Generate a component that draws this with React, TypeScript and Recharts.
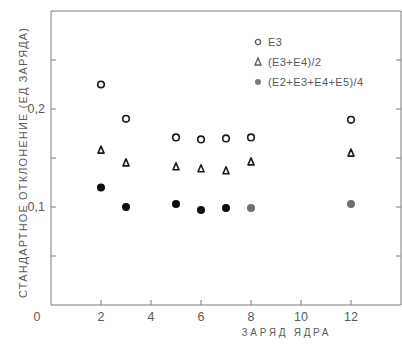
import React from 'react';
import { ScatterChart, Scatter, XAxis, YAxis } from 'recharts';

const xE3 = [2, 3, 5, 6, 7, 8, 12];
const yE3 = [0.225, 0.19, 0.171, 0.169, 0.17, 0.171, 0.189];
const yE34 = [0.158, 0.145, 0.141, 0.139, 0.137, 0.146, 0.155];
const yE2345 = [0.12, 0.1, 0.103, 0.097, 0.099, 0.099, 0.103];
const grayPoints = [8, 12];

const xTicks = [0, 2, 4, 6, 8, 10, 12];
const xTickMarks = [2, 4, 6, 8, 10, 12];
const yTicks = [0.05, 0.1, 0.15, 0.2, 0.25];
const yTickLabels: Record<string, string> = { '0.1': '0,1', '0.2': '0,2' };

const seriesNames = ['E3', '(E3+E4)/2', '(E2+E3+E4+E5)/4'];
const yTitle = 'СТАНДАРТНОЕ ОТКЛОНЕНИЕ (ЕД ЗАРЯДА)';
const xTitle = 'ЗАРЯД ЯДРА';

const dE3 = xE3.map((x, i) => ({ x, y: yE3[i] }));
const dE34 = xE3.map((x, i) => ({ x, y: yE34[i] }));
const dE2345 = xE3.map((x, i) => ({ x, y: yE2345[i] }));

const FONT = "'Liberation Sans Narrow', 'Liberation Sans', Arial, sans-serif";
const AXIS = '#7a7a7a';
const TXT = '#5a5a5a';
const INK = '#1a1a1a';

const BottomTick = (p: any) => {
  const v = p.payload.value;
  return (
    <g>
      {xTickMarks.includes(v) && <line x1={p.x} x2={p.x} y1={p.y} y2={p.y - 5} stroke={AXIS} />}
      <text x={v === 0 ? p.x - 14 : p.x} y={p.y + 16} textAnchor="middle" fontSize={12.5} fill={TXT} fontFamily={FONT}>
        {String(v)}
      </text>
    </g>
  );
};
const TopTick = (p: any) => {
  const v = p.payload.value;
  if (!xTickMarks.includes(v)) return <g />;
  return <line x1={p.x} x2={p.x} y1={p.y} y2={p.y + 5} stroke={AXIS} />;
};
const LeftTick = (p: any) => {
  const v = p.payload.value;
  const lab = yTickLabels[String(v)];
  return (
    <g>
      <line x1={p.x} x2={p.x + 5} y1={p.y} y2={p.y} stroke={AXIS} />
      {lab && (
        <text x={p.x - 6} y={p.y + 4} textAnchor="end" fontSize={12.5} fill={TXT} fontFamily={FONT}>
          {lab}
        </text>
      )}
    </g>
  );
};
const RightTick = (p: any) => <line x1={p.x} x2={p.x - 5} y1={p.y} y2={p.y} stroke={AXIS} />;

const OpenCircle = (p: any) => <circle cx={p.cx} cy={p.cy} r={3.3} fill="#fff" stroke={INK} strokeWidth={1.6} />;
const OpenTriangle = (p: any) => (
  <path d={`M${p.cx},${p.cy - 4} L${p.cx + 3},${p.cy + 3} L${p.cx - 3},${p.cy + 3} Z`} fill="#fff" stroke={INK} strokeWidth={1.6} strokeLinejoin="round" />
);
const FilledCircle = (p: any) => (
  <circle cx={p.cx} cy={p.cy} r={4} fill={grayPoints.includes(p.payload.x) ? '#6e6e6e' : '#0d0d0d'} />
);

const LegendBox = () => (
  <svg width={150} height={60} style={{ position: 'absolute', left: 254, top: 35, display: 'block' }}>
    <circle cx={4} cy={7} r={2.6} fill="#fff" stroke={TXT} strokeWidth={1.3} />
    <path d="M4,23 L7,30 L1,30 Z" fill="#fff" stroke={TXT} strokeWidth={1.3} />
    <circle cx={4} cy={47} r={3} fill="#777" />
    {seriesNames.map((n, i) => (
      <text key={n} x={14} y={11 + i * 20} fontSize={11} fill={TXT} fontFamily={FONT} letterSpacing={0.4}>
        {n}
      </text>
    ))}
  </svg>
);

const XTitleBox = () => (
  <svg width={110} height={20} style={{ position: 'absolute', left: 230, top: 326, display: 'block' }}>
    <text x={55} y={10} textAnchor="middle" fontSize={10} fill={TXT} fontFamily={FONT} textLength={87} lengthAdjust="spacing">
      {xTitle}
    </text>
  </svg>
);

const YTitle = () => {
  const cx = 23;
  const cy = 163;
  return (
    <text x={cx} y={cy} transform={`rotate(-90 ${cx} ${cy})`} textAnchor="middle" dominantBaseline="central"
      fontSize={11} fill={TXT} fontFamily={FONT} textLength={270} lengthAdjust="spacing">
      {yTitle}
    </text>
  );
};

export default function App() {
  return (
    <div style={{ position: 'absolute', left: 0, top: 0, width: 402, height: 346, background: '#fff' }}>
      <ScatterChart width={402} height={346} margin={{ top: 10, right: 0, bottom: 0, left: 0 }}>
        <XAxis xAxisId="b" dataKey="x" type="number" domain={[0, 14]} ticks={xTicks} allowDataOverflow
          orientation="bottom" height={41} tickSize={0} tickMargin={0} tickLine={false} stroke={AXIS}
          tick={BottomTick} interval={0} />
        <XAxis xAxisId="t" type="number" domain={[0, 14]} ticks={xTicks} allowDataOverflow
          orientation="top" height={1} tickSize={0} tickMargin={0} tickLine={false} stroke={AXIS}
          tick={TopTick} interval={0} />
        <YAxis yAxisId="l" dataKey="y" type="number" domain={[0, 0.3]} ticks={yTicks} allowDataOverflow
          orientation="left" width={51} tickSize={0} tickMargin={0} tickLine={false} stroke={AXIS}
          tick={LeftTick} interval={0} label={YTitle} />
        <YAxis yAxisId="r" type="number" domain={[0, 0.3]} ticks={yTicks} allowDataOverflow
          orientation="right" width={1} tickSize={0} tickMargin={0} tickLine={false} stroke={AXIS}
          tick={RightTick} interval={0} />
        <Scatter name={seriesNames[0]} data={dE3} xAxisId="b" yAxisId="l" shape={<OpenCircle />} isAnimationActive={false} />
        <Scatter name={seriesNames[1]} data={dE34} xAxisId="b" yAxisId="l" shape={<OpenTriangle />} isAnimationActive={false} />
        <Scatter name={seriesNames[2]} data={dE2345} xAxisId="b" yAxisId="l" shape={<FilledCircle />} isAnimationActive={false} />
      </ScatterChart>
      <XTitleBox />
      <LegendBox />
    </div>
  );
}
